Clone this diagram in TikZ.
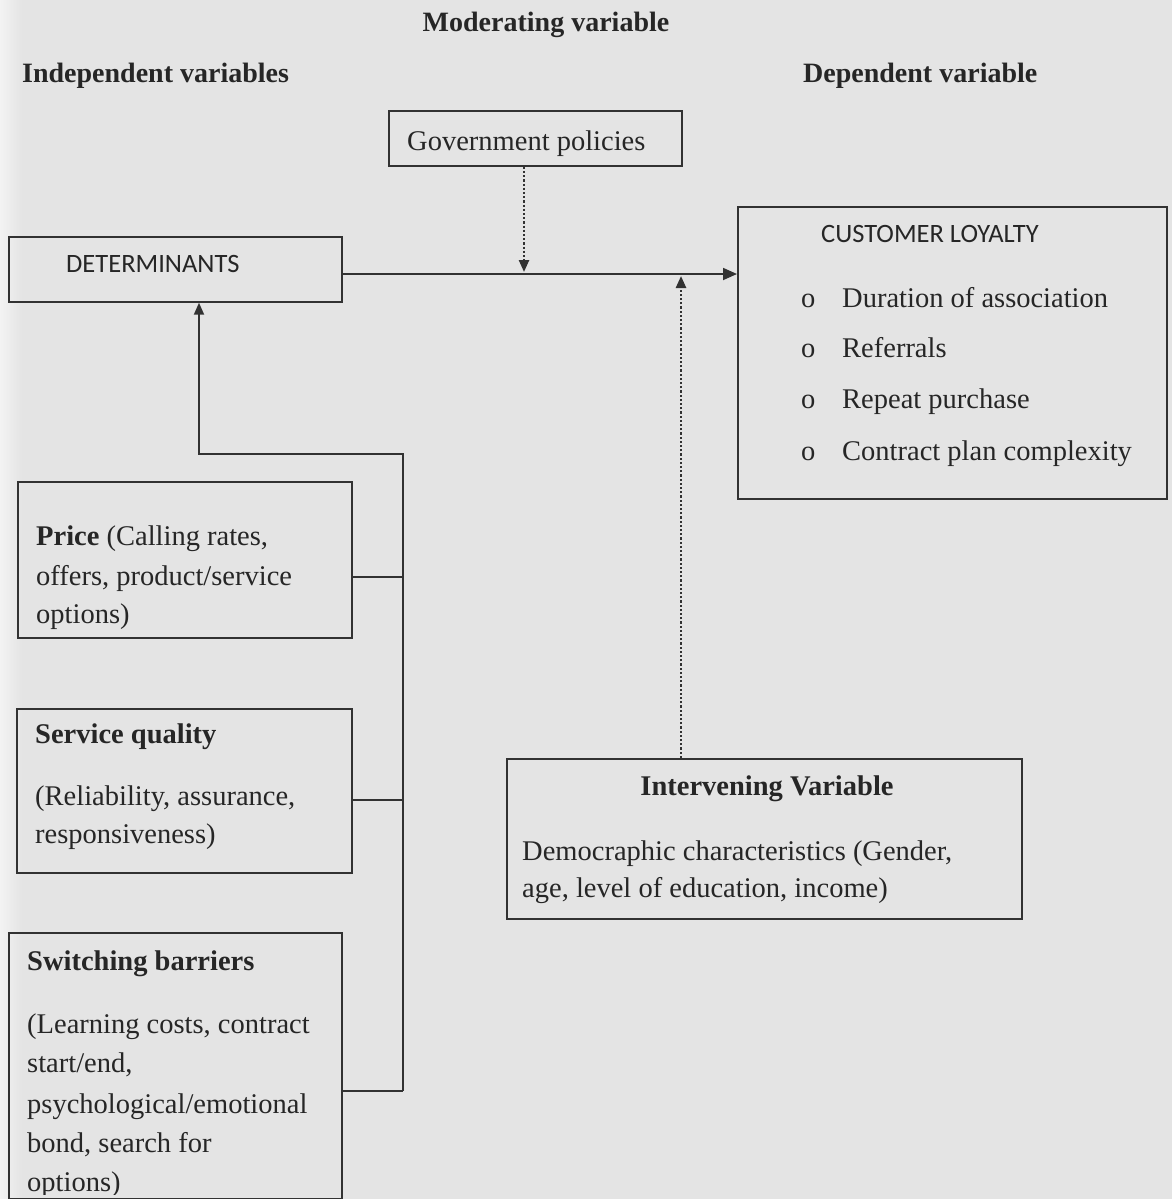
\documentclass[tikz,border=0pt]{standalone}
\usepackage{fontspec}
\setmainfont{Liberation Serif}
\newfontfamily\calib{Carlito}
\usetikzlibrary{arrows.meta}
\definecolor{bg}{RGB}{228,228,228}
\definecolor{bgl}{RGB}{243,243,243}
\definecolor{ink}{RGB}{38,38,38}
\definecolor{edge}{RGB}{50,50,50}
\begin{document}
\begin{tikzpicture}[x=1pt,y=-1pt,
  box/.style={draw=edge, line width=1.7pt, inner sep=0pt, anchor=north west},
  body/.style={inner sep=0pt, anchor=base west, text=ink, font=\fontsize{28.5}{34}\selectfont},
  bhead/.style={inner sep=0pt, anchor=base west, text=ink, font=\fontsize{28.5}{34}\selectfont\bfseries},
  toptitle/.style={inner sep=0pt, anchor=base west, text=ink, font=\fontsize{28}{34}\selectfont\bfseries},
  sans/.style={inner sep=0pt, anchor=base west, text=ink, font=\fontsize{26.5}{32}\selectfont\calib},
  conn/.style={draw=edge, line width=1.8pt},
  dots/.style={draw=edge, line width=2.4pt, dash pattern=on 2.2pt off 2pt},
  tip/.style={-{Triangle[length=14pt,width=12pt]}},
  dtip/.style={-{Triangle[length=12pt,width=10pt]}}
]
\useasboundingbox (0,0) rectangle (1172,1199);
\fill[bg] (0,0) rectangle (1172,1199);
\shade[left color=bgl, right color=bg] (0,0) rectangle (22,1199);
\clip (0,0) rectangle (1172,1199);

% titles
\node[toptitle, anchor=base] (tmod) at (546,32) {Moderating variable};
\node[toptitle] (tind) at (22,82) {Independent variables};
\node[toptitle] (tdep) at (803,82) {Dependent variable};

% boxes
\node[box, minimum width=293pt, minimum height=55pt] (gov) at (388,110) {};
\node[box, minimum width=333pt, minimum height=65pt] (det) at (8,236) {};
\node[box, minimum width=429pt, minimum height=292pt] (cl) at (737,206) {};
\node[box, minimum width=334pt, minimum height=156pt] (price) at (17,481) {};
\node[box, minimum width=335pt, minimum height=164pt] (serv) at (16,708) {};
\node[box, minimum width=333pt, minimum height=266pt] (sw) at (8,932) {};
\node[box, minimum width=515pt, minimum height=160pt] (inter) at (506,758) {};

% texts
\node[body] (govt) at (407,150) {Government policies};
\node[sans] (dett) at (66,272) {DETERMINANTS};
\node[sans] (clt) at (821,242) {CUSTOMER LOYALTY};
\node[body] (b1) at (801,307) {o};
\node[body] (b2) at (801,357) {o};
\node[body] (b3) at (801,408) {o};
\node[body] (b4) at (801,460) {o};
\node[body] (i1) at (842,307) {Duration of association};
\node[body] (i2) at (842,357) {Referrals};
\node[body] (i3) at (842,408) {Repeat purchase};
\node[body] (i4) at (842,460) {Contract plan complexity};

\node[body] (p1) at (36,545) {\textbf{Price} (Calling rates,};
\node[body] (p2) at (36,585) {offers, product/service};
\node[body] (p3) at (36,623) {options)};

\node[bhead] (s0) at (35,743) {Service quality};
\node[body] (s1) at (35,805) {(Reliability, assurance,};
\node[body] (s2) at (35,843) {responsiveness)};

\node[bhead] (w0) at (27,970) {Switching barriers};
\node[body] (w1) at (27,1033) {(Learning costs, contract};
\node[body] (w2) at (27,1072) {start/end,};
\node[body] (w3) at (27,1113) {psychological/emotional};
\node[body] (w4) at (27,1152) {bond, search for};
\begin{scope}
\clip (0,0) rectangle (1172,1194);
\node[body] (w5) at (27,1191) {options)};
\end{scope}

\node[bhead, anchor=base] (it) at (767,795) {Intervening Variable};
\node[body] (d1) at (522,860) {Democraphic characteristics (Gender,};
\node[body] (d2) at (522,897) {age, level of education, income)};

% connectors
\coordinate (m1) at (341,274);
\coordinate (gx) at (524,272);
\coordinate (ix) at (681,276);
\coordinate (c1) at (403,577);
\coordinate (c2) at (403,800);
\coordinate (c3) at (403,1091);
\coordinate (bus) at (403,454);
\coordinate (dx) at (199,454);

\draw[conn, tip] (det.east |- m1) -- (cl.west |- m1);
\draw[dots, dtip] (gov.south -| gx) -- (gx);
\draw[dots, dtip] (inter.north -| ix) -- (ix);
\draw[conn] (price.east |- c1) -- (c1);
\draw[conn] (serv.east |- c2) -- (c2);
\draw[conn] (sw.east |- c3) -- (c3);
\draw[conn, dtip] (c3) -- (bus) -- (dx) -- (det.south -| dx);
\end{tikzpicture}
\end{document}
